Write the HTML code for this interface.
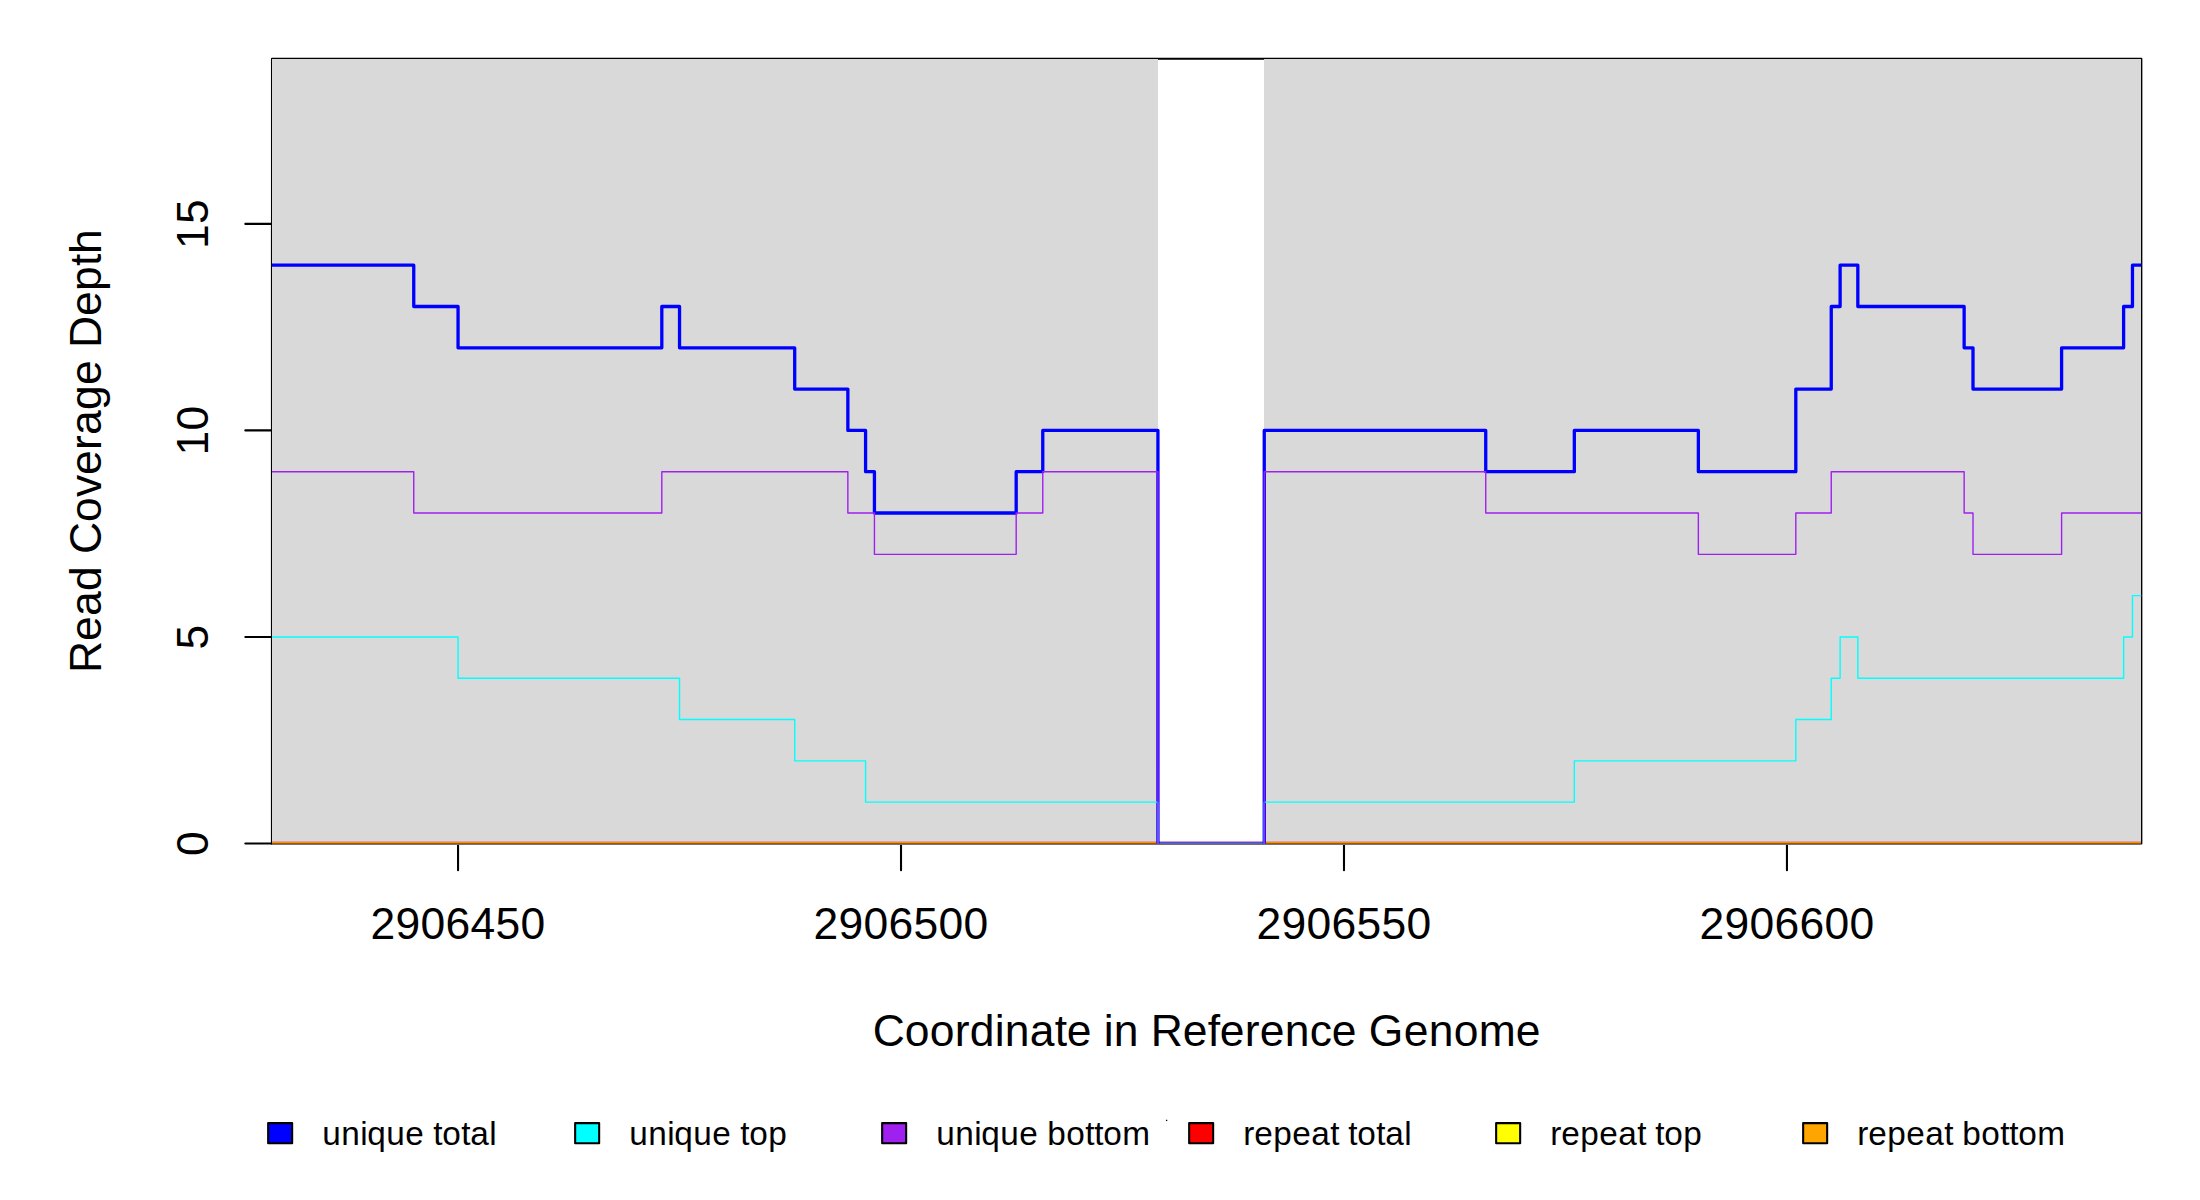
<!DOCTYPE html>
<html lang="en">
<head>
<meta charset="utf-8">
<title>Read Coverage Depth</title>
<style>
html,body{margin:0;padding:0;background:#fff;}
body{width:2200px;height:1200px;overflow:hidden;}
svg{display:block;}
text{font-family:'Liberation Sans', Arial, Helvetica, sans-serif;fill:#000;font-kerning:none;white-space:pre;}
.ax{font-size:44.44px;}
.lg{font-size:33.33px;}
</style>
</head>
<body>
<svg width="2200" height="1200" viewBox="0 0 2200 1200">
<rect x="0" y="0" width="2200" height="1200" fill="#ffffff"/>
<rect x="272.00" y="58.67" width="1869.33" height="784.79" fill="none" stroke="#000" stroke-width="2.083" stroke-linejoin="round"/>
<g stroke="#000" stroke-width="2.083" stroke-linecap="round" fill="none">
<path d="M272.00 843.46 V223.89"/>
<path d="M272.00 843.46 H245.33"/>
<path d="M272.00 636.94 H245.33"/>
<path d="M272.00 430.41 H245.33"/>
<path d="M272.00 223.89 H245.33"/>
<path d="M458.05 843.46 H1786.95"/>
<path d="M458.05 843.46 V870.13"/>
<path d="M901.02 843.46 V870.13"/>
<path d="M1343.99 843.46 V870.13"/>
<path d="M1786.95 843.46 V870.13"/>
</g>
<clipPath id="pc"><rect x="272.00" y="58.67" width="1869.33" height="784.79"/></clipPath>
<rect x="272" y="59" width="886" height="784" fill="#d9d9d9" shape-rendering="crispEdges"/>
<rect x="1264" y="59" width="877" height="784" fill="#d9d9d9" shape-rendering="crispEdges"/>
<g shape-rendering="crispEdges">
<rect x="272" y="841" width="886" height="1" fill="#e4a2a8"/>
<rect x="272" y="842" width="886" height="1" fill="#ff8c00"/>
<rect x="272" y="843" width="886" height="1" fill="#9a5e05"/>
<rect x="272" y="844" width="886" height="1" fill="#72747a"/>
<rect x="1158" y="841" width="106" height="1" fill="#cf9fd9"/>
<rect x="1158" y="842" width="106" height="1" fill="#4b4bf5"/>
<rect x="1158" y="843" width="106" height="1" fill="#6a6290"/>
<rect x="1158" y="844" width="106" height="1" fill="#707070"/>
<rect x="1264" y="841" width="877" height="1" fill="#e4a2a8"/>
<rect x="1264" y="842" width="877" height="1" fill="#ff8c00"/>
<rect x="1264" y="843" width="877" height="1" fill="#9a5e05"/>
<rect x="1264" y="844" width="877" height="1" fill="#72747a"/>
</g>
<g clip-path="url(#pc)" fill="none" stroke-linejoin="round" stroke-linecap="round">
<path d="M272.00 265.19 H413.75 V306.50 H458.05 V347.80 H661.81 V306.50 H679.53 V347.80 H794.70 V389.11 H847.86 V430.41 H865.58 V471.72 H874.44 V513.02 H1016.19 V471.72 H1042.77 V430.41 H1157.94 V847.59 H1157.94 M1264.25 846.46 V430.41 H1485.74 V471.72 H1574.33 V430.41 H1698.36 V471.72 H1795.81 V389.11 H1831.25 V306.50 H1840.11 V265.19 H1857.83 V306.50 H1964.14 V347.80 H1973.00 V389.11 H2061.60 V347.80 H2123.61 V306.50 H2132.47 V265.19 H2141.33" stroke="#0000ff" stroke-width="3.3"/>
<path d="M272.00 636.94 H458.05 V678.24 H679.53 V719.55 H794.70 V760.85 H865.58 V802.16 H1157.94 V847.59 H1157.94 M1264.25 846.46 V802.16 H1574.33 V760.85 H1795.81 V719.55 H1831.25 V678.24 H1840.11 V636.94 H1857.83 V678.24 H2123.61 V636.94 H2132.47 V595.63 H2141.33" stroke="#00ffff" stroke-width="1.4"/>
<path d="M272.00 471.72 H413.75 V513.02 H661.81 V471.72 H847.86 V513.02 H874.44 V554.33 H1016.19 V513.02 H1042.77 V471.72 H1157.94 V847.59 H1157.94 M1264.25 846.46 V471.72 H1485.74 V513.02 H1698.36 V554.33 H1795.81 V513.02 H1831.25 V471.72 H1964.14 V513.02 H1973.00 V554.33 H2061.60 V513.02 H2141.33" stroke="#a020f0" stroke-width="1.4"/>
</g>
<text class="ax" x="370.55 395.55 420.55 445.55 470.55 495.55 520.55" y="939.00">2906450</text>
<text class="ax" x="813.52 838.52 863.52 888.52 913.52 938.52 963.52" y="939.00">2906500</text>
<text class="ax" x="1256.49 1281.49 1306.49 1331.49 1356.49 1381.49 1406.49" y="939.00">2906550</text>
<text class="ax" x="1699.45 1724.45 1749.45 1774.45 1799.45 1824.45 1849.45" y="939.00">2906600</text>
<text class="ax" x="872.66 904.66 929.66 954.66 969.66 994.66 1004.66 1029.66 1054.66 1066.66 1091.66 1103.66 1113.66 1138.66 1150.66 1182.66 1207.66 1219.66 1244.66 1259.66 1284.66 1309.66 1331.66 1356.66 1368.66 1403.66 1428.66 1453.66 1478.66 1515.66" y="1046.00">Coordinate in Reference Genome</text>
<text class="ax" transform="translate(208.00 843.46) rotate(-90)" x="-12.50" y="0">0</text>
<text class="ax" transform="translate(208.00 636.94) rotate(-90)" x="-12.50" y="0">5</text>
<text class="ax" transform="translate(208.00 430.41) rotate(-90)" x="-25.00 0.00" y="0">10</text>
<text class="ax" transform="translate(208.00 223.89) rotate(-90)" x="-25.00 0.00" y="0">15</text>
<text class="ax" transform="translate(100.50 451.06) rotate(-90)" x="-222.00 -190.00 -165.00 -140.00 -115.00 -103.00 -71.00 -46.00 -24.00 1.00 16.00 41.00 66.00 91.00 103.00 135.00 160.00 185.00 197.00" y="0">Read Coverage Depth</text>
<rect x="268.15" y="1123.10" width="24" height="20.2" fill="#0000ff" stroke="#000" stroke-width="2.083" stroke-linejoin="round"/>
<text class="lg" x="322.15 341.15 360.15 367.15 386.15 405.15 424.15 433.15 442.15 461.15 470.15 489.15" y="1145.00">unique total</text>
<rect x="575.15" y="1123.10" width="24" height="20.2" fill="#00ffff" stroke="#000" stroke-width="2.083" stroke-linejoin="round"/>
<text class="lg" x="629.15 648.15 667.15 674.15 693.15 712.15 731.15 740.15 749.15 768.15" y="1145.00">unique top</text>
<rect x="882.15" y="1123.10" width="24" height="20.2" fill="#a020f0" stroke="#000" stroke-width="2.083" stroke-linejoin="round"/>
<text class="lg" x="936.15 955.15 974.15 981.15 1000.15 1019.15 1038.15 1047.15 1066.15 1085.15 1094.15 1103.15 1122.15" y="1145.00">unique bottom</text>
<rect x="1189.15" y="1123.10" width="24" height="20.2" fill="#ff0000" stroke="#000" stroke-width="2.083" stroke-linejoin="round"/>
<text class="lg" x="1243.15 1254.15 1273.15 1292.15 1311.15 1330.15 1339.15 1348.15 1357.15 1376.15 1385.15 1404.15" y="1145.00">repeat total</text>
<rect x="1496.15" y="1123.10" width="24" height="20.2" fill="#ffff00" stroke="#000" stroke-width="2.083" stroke-linejoin="round"/>
<text class="lg" x="1550.15 1561.15 1580.15 1599.15 1618.15 1637.15 1646.15 1655.15 1664.15 1683.15" y="1145.00">repeat top</text>
<rect x="1803.15" y="1123.10" width="24" height="20.2" fill="#ffa500" stroke="#000" stroke-width="2.083" stroke-linejoin="round"/>
<text class="lg" x="1857.15 1868.15 1887.15 1906.15 1925.15 1944.15 1953.15 1962.15 1981.15 2000.15 2009.15 2018.15 2037.15" y="1145.00">repeat bottom</text>
<rect x="1165.95" y="1119.75" width="1.3" height="1.3" fill="#000"/>
</svg>
</body>
</html>
